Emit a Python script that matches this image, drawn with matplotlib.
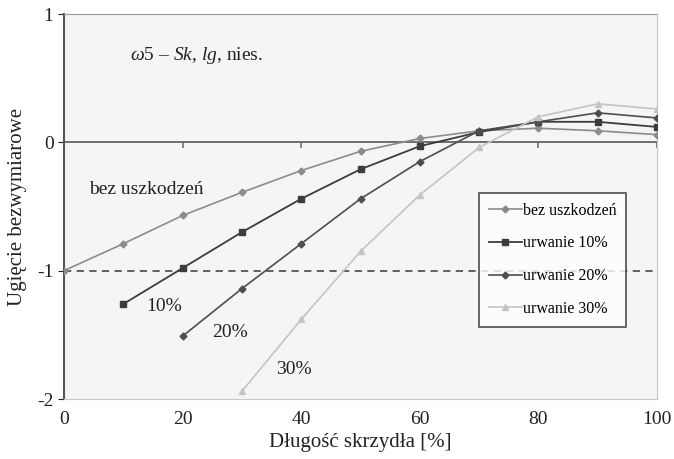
import matplotlib
matplotlib.use("Agg")
from matplotlib import pyplot as plt

plt.rcParams["font.family"] = "Liberation Serif"
plt.rcParams["mathtext.fontset"] = "custom"
plt.rcParams["mathtext.rm"] = "Liberation Serif"
plt.rcParams["mathtext.it"] = "Liberation Serif:italic"
plt.rcParams["axes.unicode_minus"] = False

# wing length [%]
x_full = [0, 10, 20, 30, 40, 50, 60, 70, 80, 90, 100]
x_10 = [10, 20, 30, 40, 50, 60, 70, 80, 90, 100]
x_20 = [20, 30, 40, 50, 60, 70, 80, 90, 100]
x_30 = [30, 40, 50, 60, 70, 80, 90, 100]

bez_uszkodzen = [-1.0, -0.79, -0.57, -0.39, -0.22, -0.07, 0.03, 0.09, 0.11, 0.09, 0.06]
urwanie_10 = [-1.26, -0.98, -0.70, -0.44, -0.21, -0.03, 0.08, 0.16, 0.16, 0.12]
urwanie_20 = [-1.51, -1.14, -0.79, -0.44, -0.15, 0.09, 0.16, 0.23, 0.19]
urwanie_30 = [-1.94, -1.38, -0.85, -0.41, -0.04, 0.20, 0.30, 0.26]

fig = plt.figure(figsize=(6.74, 4.59), dpi=100)
ax = fig.add_axes([64 / 674, 60 / 459, 593 / 674, 385 / 459])
ax.set_facecolor("#f5f5f5")

ax.axhline(0, color="#6e6e6e", lw=1.4, zorder=1)
ax.axhline(-1, color="#555555", lw=1.3, ls=(0, (4, 3)), zorder=1)

ax.plot(x_full, bez_uszkodzen, color="#8c8c8c", lw=1.2, marker="D", ms=3.5,
        label="bez uszkodzeń", zorder=3)
ax.plot(x_10, urwanie_10, color="#3c3c3c", lw=1.3, marker="s", ms=4.5,
        label="urwanie 10%", zorder=3)
ax.plot(x_20, urwanie_20, color="#4e4e4e", lw=1.2, marker="D", ms=3.5,
        label="urwanie 20%", zorder=3)
ax.plot(x_30, urwanie_30, color="#c4c4c4", lw=1.2, marker="^", ms=4.5,
        label="urwanie 30%", zorder=3)

ax.set_xlim(0, 100)
ax.set_ylim(-2, 1)
ax.set_xticks([0, 20, 40, 60, 80, 100])
ax.set_yticks([1, 0, -1, -2])
ax.tick_params(axis="x", length=0, labelsize=14, pad=9, colors="#222222")
ax.tick_params(axis="y", length=4, labelsize=14, direction="out", colors="#222222")

for side in ["right", "bottom"]:
    ax.spines[side].set_color("#c8c8c8")
ax.spines["top"].set_color("#9a9a9a")
ax.spines["left"].set_color("#555555")
ax.spines["left"].set_linewidth(1.5)

# tick marks on the zero line
sec = ax.secondary_xaxis(2 / 3)
sec.set_xticks([20, 40, 60, 80, 100])
sec.tick_params(length=4, direction="out", labelbottom=False, labeltop=False,
                bottom=True, top=False, color="#6e6e6e", width=1.2)
sec.spines["bottom"].set_visible(False)
sec.spines["top"].set_visible(False)

ax.set_xlabel("Długość skrzydła [%]", fontsize=15, color="#222222", labelpad=3)
ax.set_ylabel("Ugięcie bezwymiarowe", fontsize=15, color="#222222")
ax.yaxis.set_label_coords(-0.063, 0.5)

ax.text(11.2, 0.68, r"$\omega$5 – $\mathit{Sk}$, $\mathit{lg}$, nies.", fontsize=14,
        color="#222222", va="center")
ax.text(4.2, -0.37, "bez uszkodzeń", fontsize=14, color="#222222", va="center")
ax.text(13.8, -1.28, "10%", fontsize=14, color="#222222", va="center")
ax.text(25, -1.48, "20%", fontsize=14, color="#222222", va="center")
ax.text(35.7, -1.77, "30%", fontsize=14, color="#222222", va="center")

leg = ax.legend(loc="upper left", bbox_to_anchor=(0.700, 0.535), fontsize=11.5,
                frameon=True, fancybox=False, edgecolor="#333333",
                handlelength=2.1, handletextpad=0.05, labelspacing=1.05,
                borderpad=0.6, borderaxespad=0)
leg.get_frame().set_linewidth(1.3)
leg.get_frame().set_facecolor("white")

fig.savefig("out.png", dpi=100)
